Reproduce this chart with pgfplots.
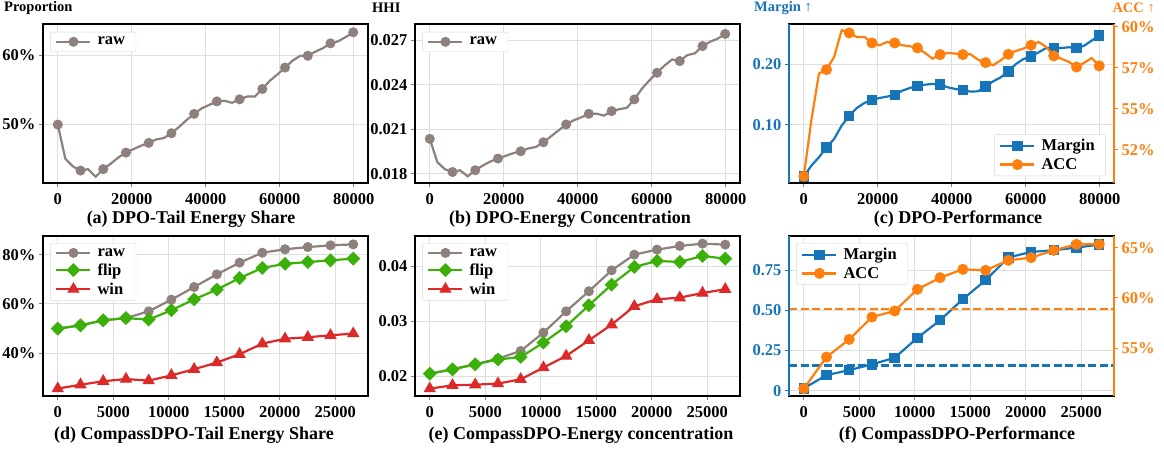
\documentclass[border=0pt]{standalone}
\usepackage{fontspec}
\setmainfont{Liberation Serif}
\usepackage{pgfplots}
\pgfplotsset{compat=1.18}
\definecolor{cgray}{RGB}{141,128,125}
\definecolor{cgreen}{RGB}{58,176,8}
\definecolor{cred}{RGB}{220,42,42}
\definecolor{cblue}{RGB}{22,116,184}
\definecolor{corange}{RGB}{255,127,14}
\newcommand{\tfont}{\fontsize{16.5}{16.5}\selectfont\bfseries}
\newcommand{\lfont}{\fontsize{16.5}{16.5}\selectfont\bfseries}
\pgfplotsset{
  base/.style={
    scale only axis, width=325pt, height=159pt,
    axis line style={line width=1.5pt},
    grid=major, grid style={black!13, line width=0.9pt},
    tick align=outside, major tick length=4pt,
    tick style={line width=0.9pt},
    xtick pos=lower, ytick pos=left,
    tick label style={font=\tfont},
    xticklabel style={yshift=-3pt},
    scaled x ticks=false, scaled y ticks=false,
    legend style={font=\lfont, draw=black!15, rounded corners=2pt, inner xsep=5pt, inner ysep=3pt, row sep=2pt,
      nodes={inner xsep=6pt}},
    legend cell align=left,
    legend image code/.code={\draw[mark repeat=2,mark phase=2,##1] plot coordinates {(0pt,0pt) (17pt,0pt) (34pt,0pt)};},
  },
  dpox/.style={xmin=-4000, xmax=83870, xtick={0,20000,40000,60000,80000}, xticklabels={0,20000,40000,60000,80000}},
  cx/.style={xmin=-1331, xmax=27955, xtick={0,5000,10000,15000,20000,25000}, xticklabels={0,5000,10000,15000,20000,25000}},
  rawst/.style={color=cgray, line width=2.2pt, mark=*, mark size=4.5pt, mark options={solid, line width=1pt, draw=cgray, fill=cgray}},
  flipst/.style={color=cgreen, line width=2.2pt, mark=square*, mark size=4.4pt, mark options={solid, line width=1pt, rotate=45, draw=cgreen, fill=cgreen}},
  winst/.style={color=cred, line width=2.2pt, mark=triangle*, mark size=6.2pt, mark options={solid, line width=1pt, draw=cred, fill=cred}},
  marginst/.style={color=cblue, line width=2.2pt, mark=square*, mark size=4.7pt, mark options={solid, line width=1pt, draw=cblue, fill=cblue}},
  accst/.style={color=corange, line width=2.2pt, mark=*, mark size=5pt, mark options={solid, line width=1pt, draw=corange, fill=corange}},
}
\begin{document}
\begin{tikzpicture}
\path[use as bounding box] (0pt,0pt) rectangle (1164pt,450pt);
% ---------------- (a)
\begin{axis}[base, dpox, at={(43pt,267pt)}, anchor=south west,
  ymin=41.5, ymax=64.5, ytick={50,60}, yticklabels={50\%,60\%},
  legend style={at={(0.022,0.95)}, anchor=north west}]
\addlegendimage{rawst}\addlegendentry{raw}
\addplot[rawst, mark indices={1,4,7,10,13,16,19,22,25,28,31,34,37,40}, forget plot] coordinates {
(0,49.95) (2048,45.0) (4096,43.9) (6144,43.3) (8192,43.5) (10240,42.4) (12288,43.5) (14336,44.3)
(16384,45.2) (18432,45.9) (20480,46.4) (22528,46.9) (24576,47.3) (26624,47.8) (28672,48.0) (30720,48.7)
(32768,49.6) (34816,50.6) (36864,51.5) (38912,52.3) (40960,52.8) (43008,53.3) (45056,53.4) (47104,53.1)
(49152,53.6) (51200,54.0) (53248,54.0) (55296,55.1) (57344,56.3) (59392,57.2) (61440,58.2) (63488,59.2)
(65536,59.9) (67584,59.9) (69632,60.5) (71680,61.0) (73728,61.7) (75776,62.0) (77824,62.6) (79872,63.3)};
\end{axis}
% ---------------- (b)
\begin{axis}[base, dpox, at={(415pt,267pt)}, anchor=south west,
  ymin=0.01737, ymax=0.0281, ytick={0.018,0.021,0.024,0.027}, yticklabels={0.018,0.021,0.024,0.027},
  legend style={at={(0.022,0.95)}, anchor=north west}]
\addlegendimage{rawst}\addlegendentry{raw}
\addplot[rawst, mark indices={1,4,7,10,13,16,19,22,25,28,31,34,37,40}, forget plot] coordinates {
(0,0.02035) (2048,0.01877) (4096,0.01830) (6144,0.01811) (8192,0.01823) (10240,0.01782) (12288,0.01823) (14336,0.01855)
(16384,0.01882) (18432,0.01902) (20480,0.01920) (22528,0.01938) (24576,0.01951) (26624,0.01970) (28672,0.01980) (30720,0.02012)
(32768,0.02052) (34816,0.02092) (36864,0.02132) (38912,0.02160) (40960,0.02180) (43008,0.02204) (45056,0.02205) (47104,0.02192)
(49152,0.02222) (51200,0.02235) (53248,0.02244) (55296,0.02301) (57344,0.02373) (59392,0.02430) (61440,0.02481) (63488,0.02530)
(65536,0.02571) (67584,0.02560) (69632,0.02600) (71680,0.02612) (73728,0.02661) (75776,0.02690) (77824,0.02711) (79872,0.02743)};
\end{axis}
% ---------------- (c)
\begin{axis}[base, dpox, at={(789pt,267pt)}, anchor=south west,
  ymin=0.0038, ymax=0.2659, ytick={0.1,0.2}, yticklabels={0.10,0.20},
  y tick label style={text=cblue}, every y tick/.append style={cblue}]
\addplot[marginst, mark indices={1,4,7,10,13,16,19,22,25,28,31,34,37,40}, forget plot] coordinates {
(0,0.0143) (2048,0.0324) (4096,0.0462) (6144,0.0626) (8192,0.0764) (10240,0.0984) (12288,0.1143) (14336,0.1275)
(16384,0.1357) (18432,0.1407) (20480,0.1440) (22528,0.1462) (24576,0.1489) (26624,0.1560) (28672,0.1604) (30720,0.1637)
(32768,0.1659) (34816,0.1670) (36864,0.1659) (38912,0.1615) (40960,0.1588) (43008,0.1571) (45056,0.1544) (47104,0.1550)
(49152,0.1626) (51200,0.1714) (53248,0.1780) (55296,0.1879) (57344,0.2000) (59392,0.2082) (61440,0.2121) (63488,0.2192)
(65536,0.2264) (67584,0.2264) (69632,0.2264) (71680,0.2275) (73728,0.2264) (75776,0.2300) (77824,0.2385) (79872,0.2467)};
\end{axis}
\begin{axis}[base, dpox, at={(789pt,267pt)}, anchor=south west, hide x axis, grid=none,
  y axis line style={draw=none},
  ytick pos=right, yticklabel pos=right,
  ymin=50.46, ymax=60.18, ytick={52.5,55,57.5,60}, yticklabels={52\%,55\%,57\%,60\%},
  y tick label style={text=corange}, every y tick/.append style={corange},
  legend style={at={(0.975,0.044)}, anchor=south east}]
\addlegendimage{marginst}\addlegendentry{Margin}
\addlegendimage{accst}\addlegendentry{ACC}
\addplot[accst, mark indices={1,4,7,10,13,16,19,22,25,28,31,34,37,40}, forget plot] coordinates {
(0,50.87) (2048,54.3) (4096,57.15) (6144,57.39) (8192,58.17) (10240,59.8) (12288,59.63) (14336,59.39)
(16384,59.39) (18432,59.02) (20480,58.88) (22528,59.08) (24576,59.02) (26624,58.88) (28672,58.82) (30720,58.72)
(32768,58.41) (34816,58.06) (36864,58.31) (38912,58.41) (40960,58.37) (43008,58.31) (45056,58.33) (47104,58.00)
(49152,57.82) (51200,57.66) (53248,57.96) (55296,58.33) (57344,58.53) (59392,58.68) (61440,58.88) (63488,59.08)
(65536,58.78) (67584,58.23) (69632,58.06) (71680,57.86) (73728,57.55) (75776,57.80) (77824,58.10) (79872,57.62)};
\end{axis}
\draw[cblue, line width=1.5pt] (789pt,267pt) -- (789pt,426pt);
\draw[corange, line width=1.5pt] (1114pt,267pt) -- (1114pt,426pt);
% ---------------- (d)
\begin{axis}[base, cx, at={(43pt,54pt)}, anchor=south west, height=160pt,
  ymin=22.5, ymax=87.6, ytick={40,60,80}, yticklabels={40\%,60\%,80\%},
  legend style={at={(0.022,0.956)}, anchor=north west}]
\addplot[rawst] coordinates {(0,49.9) (2048,51.25) (4096,53.3) (6144,54.2) (8192,56.95) (10240,61.7) (12288,66.85) (14336,72.0) (16384,76.75) (18432,80.8) (20480,82.2) (22528,83.1) (24576,83.8) (26624,84.2)};
\addlegendentry{raw}
\addplot[flipst] coordinates {(0,49.9) (2048,51.25) (4096,53.3) (6144,54.2) (8192,53.6) (10240,57.4) (12288,61.8) (14336,65.8) (16384,70.5) (18432,74.6) (20480,76.3) (22528,77.0) (24576,77.7) (26624,78.4)};
\addlegendentry{flip}
\addplot[winst] coordinates {(0,25.5) (2048,27.1) (4096,28.5) (6144,29.4) (8192,28.75) (10240,30.9) (12288,33.4) (14336,36.1) (16384,39.5) (18432,43.8) (20480,45.8) (22528,46.4) (24576,47.2) (26624,47.9)};
\addlegendentry{win}
\end{axis}
% ---------------- (e)
\begin{axis}[base, cx, at={(415pt,54pt)}, anchor=south west, height=160pt,
  ymin=0.01636, ymax=0.04545, ytick={0.02,0.03,0.04}, yticklabels={0.02,0.03,0.04},
  legend style={at={(0.022,0.956)}, anchor=north west}]
\addplot[rawst] coordinates {(0,0.02042) (2048,0.02121) (4096,0.02212) (6144,0.02315) (8192,0.02455) (10240,0.02788) (12288,0.03176) (14336,0.0354) (16384,0.03921) (18432,0.04206) (20480,0.04297) (22528,0.04364) (24576,0.04406) (26624,0.04388)};
\addlegendentry{raw}
\addplot[flipst] coordinates {(0,0.02042) (2048,0.02121) (4096,0.02212) (6144,0.02300) (8192,0.02345) (10240,0.02606) (12288,0.02903) (14336,0.03285) (16384,0.0366) (18432,0.03982) (20480,0.04091) (22528,0.04073) (24576,0.04182) (26624,0.04133)};
\addlegendentry{flip}
\addplot[winst] coordinates {(0,0.0177) (2048,0.0183) (4096,0.01842) (6144,0.01861) (8192,0.0194) (10240,0.02152) (12288,0.02364) (14336,0.02648) (16384,0.02933) (18432,0.03267) (20480,0.03394) (22528,0.03424) (24576,0.03509) (26624,0.03576)};
\addlegendentry{win}
\end{axis}
% ---------------- (f)
\begin{axis}[base, cx, at={(789pt,54pt)}, anchor=south west, height=160pt,
  ymin=-0.033, ymax=0.963, ytick={0,0.25,0.5,0.75}, yticklabels={0,0.25,0.50,0.75},
  y tick label style={text=cblue}, every y tick/.append style={cblue}]
\addplot[color=cblue, line width=2.2pt, dash pattern=on 8pt off 3.5pt, forget plot] coordinates {(-1331,0.157) (27955,0.157)};
\addplot[marginst, forget plot] coordinates {(0,0.0145) (2048,0.097) (4096,0.128) (6144,0.164) (8192,0.205) (10240,0.329) (12288,0.439) (14336,0.570) (16384,0.688) (18432,0.829) (20480,0.864) (22528,0.874) (24576,0.891) (26624,0.909)};
\end{axis}
\begin{axis}[base, cx, at={(789pt,54pt)}, anchor=south west, height=160pt, hide x axis, grid=none,
  y axis line style={draw=none},
  ytick pos=right, yticklabel pos=right,
  ymin=50.22, ymax=66.16, ytick={55,60,65}, yticklabels={55\%,60\%,65\%},
  y tick label style={text=corange}, every y tick/.append style={corange},
  legend style={at={(0.022,0.956)}, anchor=north west}]
\addlegendimage{marginst}\addlegendentry{Margin}
\addlegendimage{accst}\addlegendentry{ACC}
\addplot[color=corange, line width=2.2pt, dash pattern=on 8pt off 3.5pt, forget plot] coordinates {(-1331,58.87) (27955,58.87)};
\addplot[accst, forget plot] coordinates {(0,50.95) (2048,54.1) (4096,55.86) (6144,58.09) (8192,58.69) (10240,60.85) (12288,62.01) (14336,62.84) (16384,62.74) (18432,63.74) (20480,64.0) (22528,64.73) (24576,65.33) (26624,65.33)};
\end{axis}
\draw[cblue, line width=1.5pt] (789pt,54pt) -- (789pt,214pt);
\draw[corange, line width=1.5pt] (1114pt,54pt) -- (1114pt,214pt);
% ---------------- headers and titles
\begin{scope}[every node/.style={inner sep=0pt, font=\fontsize{14.5}{14.5}\selectfont\bfseries}]
\node[anchor=west] at (4pt,442pt) {Proportion};
\node[anchor=west] at (372pt,442pt) {HHI};
\node[anchor=west, text=cblue] at (754pt,442pt) {Margin ↑};
\node[anchor=east, text=corange] at (1155pt,442pt) {ACC ↑};
\end{scope}
\begin{scope}[every node/.style={inner sep=0pt, font=\fontsize{18}{18}\selectfont\bfseries}]
\node at (191pt,231pt) {(a) DPO-Tail Energy Share};
\node at (570pt,231pt) {(b) DPO-Energy Concentration};
\node at (958pt,231pt) {(c) DPO-Performance};
\node at (194pt,15pt) {(d) CompassDPO-Tail Energy Share};
\node at (581pt,15pt) {(e) CompassDPO-Energy concentration};
\node at (957pt,15pt) {(f) CompassDPO-Performance};
\end{scope}
\end{tikzpicture}
\end{document}
